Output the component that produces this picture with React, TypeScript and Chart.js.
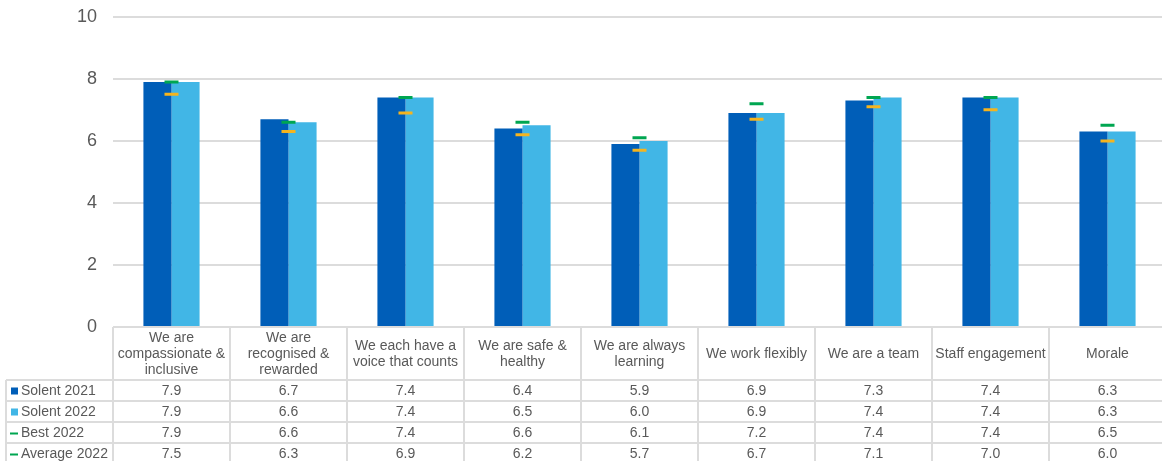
import { useEffect, useRef } from 'react';
import { Chart, registerables } from 'chart.js';

Chart.register(...registerables);

// Category labels, already split into the lines shown in the table header
const categories: string[][] = [
  ['We are', 'compassionate &', 'inclusive'],
  ['We are', 'recognised &', 'rewarded'],
  ['We each have a', 'voice that counts'],
  ['We are safe &', 'healthy'],
  ['We are always', 'learning'],
  ['We work flexibly'],
  ['We are a team'],
  ['Staff engagement'],
  ['Morale'],
];

const solent2021 = [7.9, 6.7, 7.4, 6.4, 5.9, 6.9, 7.3, 7.4, 6.3];
const solent2022 = [7.9, 6.6, 7.4, 6.5, 6.0, 6.9, 7.4, 7.4, 6.3];
const best2022 = [7.9, 6.6, 7.4, 6.6, 6.1, 7.2, 7.4, 7.4, 6.5];
const average2022 = [7.5, 6.3, 6.9, 6.2, 5.7, 6.7, 7.1, 7.0, 6.0];

const yMin = 0;
const yMax = 10;
const yStep = 2;

const DARK_BLUE = '#005EB8';
const LIGHT_BLUE = '#41B6E6';
const GREEN = '#00A651';
const AMBER = '#F5B41E';
const TEXT = '#595959';
const BORDER = '#dcdcdc';
const FONT = '"Liberation Sans", Arial, sans-serif';

const HEADER_H = 53;
const ROW_H = 21;
const LEGEND_LEFT = 6;
const LINE_H = 16;

// Rows of the data table under the plot, with their legend keys
const tableRows = [
  { label: 'Solent 2021', values: solent2021, key: 'box', color: DARK_BLUE },
  { label: 'Solent 2022', values: solent2022, key: 'box', color: LIGHT_BLUE },
  { label: 'Best 2022', values: best2022, key: 'dash', color: GREEN },
  { label: 'Average 2022', values: average2022, key: 'dash', color: GREEN },
];

const dataTablePlugin = {
  id: 'dataTable',
  afterDraw(chart: any) {
    const { ctx, chartArea } = chart;
    const x = chart.scales.x;
    const n = categories.length;
    const colW = x.getPixelForValue(1) - x.getPixelForValue(0);
    const top = chartArea.bottom;
    const headerBottom = top + HEADER_H;
    const rowsBottom = headerBottom + tableRows.length * ROW_H;
    const right = chartArea.right;

    ctx.save();
    ctx.strokeStyle = BORDER;
    ctx.lineWidth = 2;
    const seg = (x1: number, y1: number, x2: number, y2: number) => {
      ctx.beginPath();
      ctx.moveTo(x1, y1);
      ctx.lineTo(x2, y2);
      ctx.stroke();
    };

    seg(chartArea.left, top, right, top);
    for (let r = 0; r <= tableRows.length; r++) {
      const y = headerBottom + r * ROW_H;
      seg(LEGEND_LEFT, y, right, y);
    }
    for (let i = 0; i <= n; i++) {
      const xx = x.getPixelForValue(0) - colW / 2 + i * colW;
      seg(xx, top, xx, rowsBottom);
    }
    seg(LEGEND_LEFT, headerBottom, LEGEND_LEFT, rowsBottom);

    ctx.fillStyle = TEXT;
    ctx.font = `14px ${FONT}`;
    ctx.textAlign = 'center';
    ctx.textBaseline = 'middle';

    // Header: category names
    const headerMid = top + HEADER_H / 2;
    categories.forEach((lines, i) => {
      const cx = x.getPixelForValue(i);
      const start = headerMid - ((lines.length - 1) * LINE_H) / 2;
      lines.forEach((ln, k) => ctx.fillText(ln, cx, start + k * LINE_H + 1));
    });

    // Body rows
    tableRows.forEach((row, r) => {
      const cy = headerBottom + r * ROW_H + ROW_H / 2 + 1;
      row.values.forEach((v, i) => {
        ctx.fillStyle = TEXT;
        ctx.textAlign = 'center';
        ctx.fillText(v.toFixed(1), x.getPixelForValue(i), cy);
      });
      ctx.fillStyle = row.color;
      if (row.key === 'box') {
        ctx.fillRect(11, cy - 4, 7, 7);
      } else {
        ctx.fillRect(10, cy - 1, 8, 2);
      }
      ctx.fillStyle = TEXT;
      ctx.textAlign = 'left';
      ctx.fillText(row.label, 21, cy);
    });

    ctx.restore();
  },
};

export default function App() {
  const canvasRef = useRef<HTMLCanvasElement | null>(null);

  useEffect(() => {
    if (!canvasRef.current) return;
    const chart = new Chart(canvasRef.current, {
      type: 'bar',
      data: {
        labels: categories,
        datasets: [
          {
            type: 'line',
            label: 'Best 2022',
            data: best2022,
            showLine: false,
            pointStyle: 'line',
            pointRadius: 7,
            pointBorderWidth: 3,
            pointBorderColor: GREEN,
            borderColor: GREEN,
            order: 0,
          },
          {
            type: 'line',
            label: 'Average 2022',
            data: average2022,
            showLine: false,
            pointStyle: 'line',
            pointRadius: 7,
            pointBorderWidth: 3,
            pointBorderColor: AMBER,
            borderColor: AMBER,
            order: 0,
          },
          {
            type: 'bar',
            label: 'Solent 2021',
            data: solent2021,
            backgroundColor: DARK_BLUE,
            categoryPercentage: 0.48,
            barPercentage: 1,
            order: 1,
          },
          {
            type: 'bar',
            label: 'Solent 2022',
            data: solent2022,
            backgroundColor: LIGHT_BLUE,
            categoryPercentage: 0.48,
            barPercentage: 1,
            order: 1,
          },
        ] as any,
      },
      options: {
        responsive: false,
        animation: false,
        devicePixelRatio: 1,
        layout: { autoPadding: false, padding: { top: 0, bottom: 134, left: 0, right: 0 } },
        plugins: {
          legend: { display: false },
          tooltip: { enabled: false },
        },
        scales: {
          x: { display: false },
          y: {
            min: yMin,
            max: yMax,
            ticks: {
              stepSize: yStep,
              padding: 16,
              color: TEXT,
              font: { family: FONT, size: 18 },
            },
            grid: { color: BORDER, lineWidth: 2, drawTicks: false },
            border: { display: false },
            afterFit: (scale: any) => {
              scale.width = 113;
            },
          },
        },
      },
      plugins: [dataTablePlugin],
    });
    return () => chart.destroy();
  }, []);

  return (
    <div
      style={{
        position: 'fixed',
        left: 0,
        top: 0,
        width: 1162,
        height: 461,
        overflow: 'hidden',
        background: '#fff',
      }}
    >
      <canvas
        ref={canvasRef}
        width={1166}
        height={471}
        style={{ display: 'block', marginTop: -10 }}
      />
    </div>
  );
}
